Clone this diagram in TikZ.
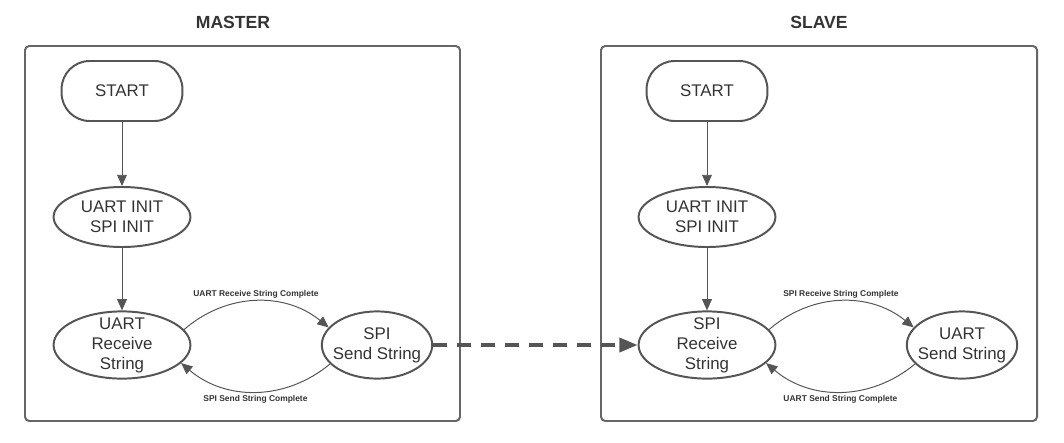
\documentclass[tikz,border=0pt]{standalone}
\usepackage{fontspec}
\setmainfont{Liberation Sans}
\usetikzlibrary{positioning,shapes.geometric,arrows.meta}
\definecolor{linegray}{HTML}{555555}
\definecolor{textgray}{HTML}{333333}

\begin{document}
\begin{tikzpicture}[x=0.025cm, y=-0.025cm,
    frame/.style={draw=linegray!90, line width=1.4pt, rounded corners=3pt},
    title/.style={font=\bfseries\fontsize{12.5}{14}\selectfont, text=textgray},
    startbox/.style={draw=linegray, line width=1.4pt, rectangle, rounded corners=20pt, minimum width=3.02cm, minimum height=1.5cm, font=\fontsize{12}{14.2}\selectfont, text=textgray},
    state/.style={draw=linegray, line width=1.4pt, ellipse, inner sep=0pt, align=center, font=\fontsize{12}{14.2}\selectfont, text=textgray},
    arrow/.style={-{Triangle[length=8pt,width=7pt]}, draw=linegray, line width=0.7pt},
    trans/.style={font=\bfseries\fontsize{6}{7}\selectfont, text=textgray, inner sep=2pt},
    link/.style={-{Triangle[length=13pt,width=10pt]}, draw=linegray, line width=2.6pt, dash pattern=on 10pt off 7pt}
]
\useasboundingbox (0,0) rectangle (1064,442);

% Frames
\node[title] (mtitle) at (233,22) {MASTER};
\node[title] (stitle) at (819,22) {SLAVE};
\draw[frame] (25,46) rectangle (460,421);
\draw[frame] (601,46) rectangle (1037,421);

% Master states
\node[startbox] (mstart) at (122,91) {START};
\node[state, minimum width=3.42cm, minimum height=1.5cm] (minit) at (122,217) {UART INIT\\SPI INIT};
\node[state, inner ysep=-3pt, minimum width=3.42cm, minimum height=1.68cm] (mrecv) at (122,345) {UART\\Receive\\String};
\node[state, inner xsep=-3.6pt, minimum width=2.68cm, minimum height=1.68cm] (msend) at (377,345) {SPI\\Send String};

% Slave states
\node[startbox] (sstart) at (707,91) {START};
\node[state, minimum width=3.42cm, minimum height=1.5cm] (sinit) at (707,217) {UART INIT\\SPI INIT};
\node[state, inner ysep=-3pt, minimum width=3.42cm, minimum height=1.68cm] (srecv) at (707,345) {SPI\\Receive\\String};
\node[state, inner xsep=-3.6pt, minimum width=2.65cm, minimum height=1.68cm] (ssend) at (962,345) {UART\\Send String};

% Master arrows
\draw[arrow] (mstart) -- (minit);
\draw[arrow] (minit) -- (mrecv);
\draw[arrow] (mrecv.14) to[bend left=40] node[trans, above] {UART Receive String Complete} (msend.160);
\draw[arrow] (msend.-158) to[bend left=40] node[trans, below] {SPI Send String Complete} (mrecv.-17);

% Slave arrows
\draw[arrow] (sstart) -- (sinit);
\draw[arrow] (sinit) -- (srecv);
\draw[arrow] (srecv.14) to[bend left=40] node[trans, above] {SPI Receive String Complete} (ssend.160);
\draw[arrow] (ssend.-158) to[bend left=40] node[trans, below] {UART Send String Complete} (srecv.-17);

% Master to slave
\draw[link] (msend) -- (srecv);

\end{tikzpicture}
\end{document}
